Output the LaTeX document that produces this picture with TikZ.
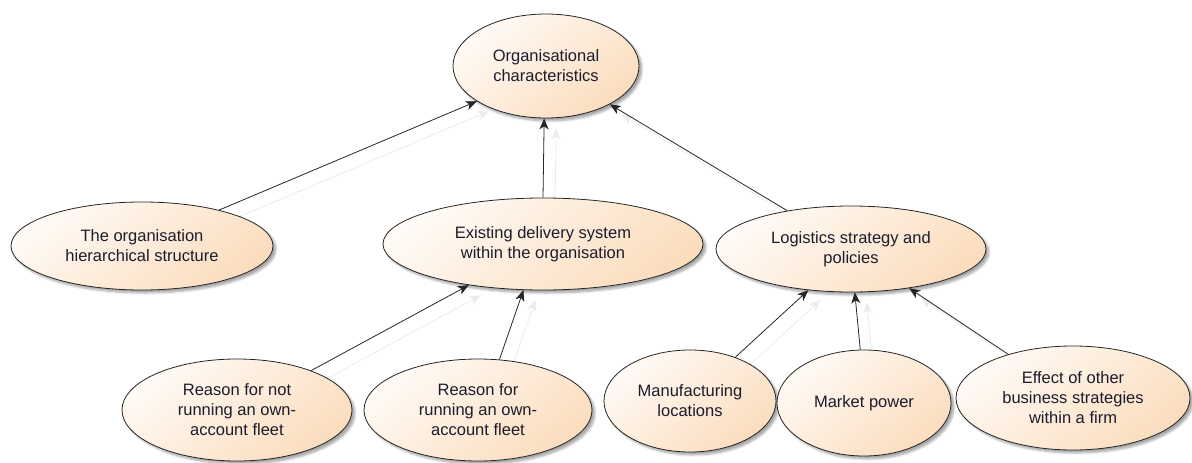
\documentclass[tikz,border=0pt]{standalone}
\usepackage{fontspec}
\setmainfont{Liberation Sans}
\usetikzlibrary{arrows.meta,shapes.geometric,shadows.blur,backgrounds}
\definecolor{bubtop}{HTML}{FFFAF5}
\definecolor{bubbot}{HTML}{FBDDBE}
\definecolor{txt}{HTML}{1C1C2C}
\begin{document}
\begin{tikzpicture}[x=1pt,y=-1pt,
  bub/.style={ellipse, draw=black!85, line width=0.8pt, inner sep=0pt, align=center,
    font=\fontsize{16.5}{20}\selectfont, text=txt,
    top color=bubtop, bottom color=bubbot, shading angle=40,
    blur shadow={shadow xshift=3pt, shadow yshift=-3pt, shadow blur steps=6, shadow opacity=35}},
  link/.style={-{Stealth[length=11pt,width=9pt,inset=3pt]}, line width=0.8pt, black!85},
  linkshadow/.style={-{Stealth[length=11pt,width=9pt,inset=3pt]}, line width=0.8pt, black!8,
    transform canvas={shift={(12pt,-10pt)}}}
]
\useasboundingbox (0,0) rectangle (1192,463);

\node[bub, minimum width=186pt, minimum height=104pt] (org) at (546,66) {Organisational\\characteristics};
\node[bub, minimum width=262pt, minimum height=88pt] (hier) at (142,246) {The organisation\\hierarchical structure};
\node[bub, minimum width=320pt, minimum height=92pt] (exist) at (543,244) {Existing delivery system\\within the organisation};
\node[bub, minimum width=270pt, minimum height=86pt] (logi) at (851,249) {Logistics strategy and\\policies};
\node[bub, minimum width=230pt, minimum height=102pt] (notown) at (237,410) {Reason for not\\running an own-\\account fleet};
\node[bub, minimum width=228pt, minimum height=102pt] (own) at (478,410) {Reason for\\running an own-\\account fleet};
\node[bub, minimum width=172pt, minimum height=102pt] (manu) at (690,401) {Manufacturing\\locations};
\node[bub, minimum width=174pt, minimum height=106pt] (market) at (864,403) {Market power};
\node[bub, minimum width=234pt, minimum height=104pt] (effect) at (1073,398) {Effect of other\\business strategies\\within a firm};

\begin{scope}[on background layer]
  \draw[linkshadow] (hier.25) -- (org.207);
  \draw[linkshadow] (exist.90) -- (org.268);
  \draw[linkshadow] (logi.149) -- (org.329);
  \draw[linkshadow] (notown.28) -- (exist.209);
  \draw[linkshadow] (own.67) -- (exist.247);
  \draw[linkshadow] (manu.44) -- (logi.224);
  \draw[linkshadow] (market.94) -- (logi.275);
  \draw[linkshadow] (effect.146) -- (logi.326);
\end{scope}

\draw[link] (hier.25) -- (org.207);
\draw[link] (exist.90) -- (org.268);
\draw[link] (logi.149) -- (org.329);
\draw[link] (notown.28) -- (exist.209);
\draw[link] (own.67) -- (exist.247);
\draw[link] (manu.44) -- (logi.224);
\draw[link] (market.94) -- (logi.275);
\draw[link] (effect.146) -- (logi.326);
\end{tikzpicture}
\end{document}
